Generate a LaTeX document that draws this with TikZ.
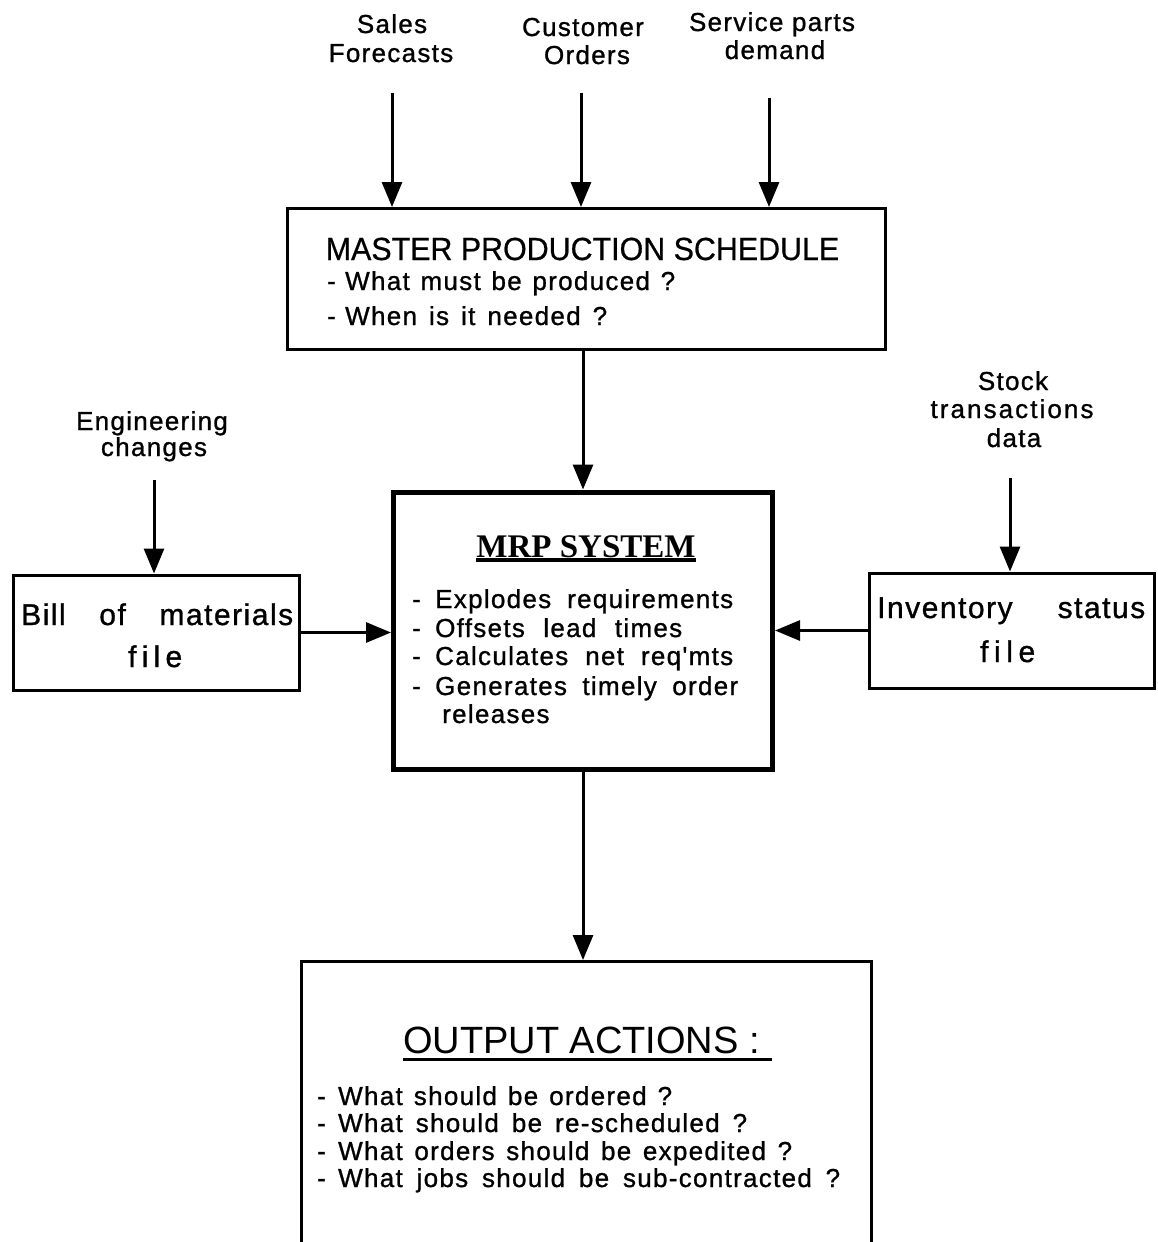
\documentclass[tikz,border=0pt]{standalone}
\usepackage{fontspec}
\setmainfont{Liberation Sans}
\newfontfamily\bodyfont{Liberation Sans}[LetterSpace=5,FakeBold=1]
\newfontfamily\headfont{Liberation Sans}[FakeStretch=0.95,FakeBold=0.6]
\newfontfamily\serifhead{Liberation Serif}
\usetikzlibrary{arrows.meta}

% a line of text stretched to a given width
\newcommand{\spreadto}[2]{\makebox[#1][s]{#2}}
% a leading dash in a column of fixed width
\newcommand{\dashcol}[1]{\makebox[#1][l]{-}}

\tikzset{
  box/.style={draw, rectangle, line width=3pt, inner sep=0pt, anchor=north west},
  arr/.style={line width=3pt, -{Triangle[length=25pt,width=20pt]}},
  lbl/.style={inner sep=0pt, anchor=base, font=\bodyfont\fontsize{26}{28}\selectfont},
  txt/.style={inner sep=0pt, anchor=base west, font=\bodyfont\fontsize{26}{28}\selectfont},
  bigtxt/.style={inner sep=0pt, anchor=base west, font=\bodyfont\fontsize{30}{34}\selectfont},
}

\begin{document}
\begin{tikzpicture}[x=1pt,y=-1pt]
  \clip (0,0) rectangle (1157,1242);
  \fill[white] (0,0) rectangle (1157,1242);

  % inputs to the master production schedule
  \node[lbl] (sales1) at (392,33) {Sales};
  \node[lbl] (sales2) at (391,62) {Forecasts};
  \node[lbl] (cust1) at (583,36) {Customer};
  \node[lbl] (cust2) at (587,64) {Orders};
  \node[lbl] (serv1) at (772,31) {Service parts};
  \node[lbl] (serv2) at (775,59) {demand};

  % master production schedule
  \node[box, minimum width=598pt, minimum height=141pt] (mps) at (286,207) {};
  \node[inner sep=0pt, anchor=base, font=\headfont\fontsize{32}{36}\selectfont] (mpst) at (582.5,260) {MASTER PRODUCTION SCHEDULE};
  \node[txt] (mps1) at (327,290) {\dashcol{18pt}\spreadto{330pt}{What must be produced ?}};
  \node[txt] (mps2) at (327,325) {\dashcol{18pt}\spreadto{262pt}{When is it needed ?}};

  % MRP system
  \node[box, line width=5pt, minimum width=379pt, minimum height=277pt] (mrp) at (391,489.5) {};
  \node[inner sep=0pt, anchor=base, font=\serifhead\bfseries\fontsize{33}{36}\selectfont] (mrpt) at (586,557) {MRP SYSTEM};
  \draw[line width=4pt] ([yshift=-3pt]mrpt.base west) -- ([yshift=-3pt]mrpt.base east);
  \node[txt] (mrp1) at (412,608) {\dashcol{23pt}\spreadto{298pt}{Explodes requirements}};
  \node[txt] (mrp2) at (412,637) {\dashcol{23pt}\spreadto{247pt}{Offsets lead times}};
  \node[txt] (mrp3) at (412,665) {\dashcol{23pt}\spreadto{298pt}{Calculates net req'mts}};
  \node[txt] (mrp4) at (412,695) {\dashcol{23pt}\spreadto{303pt}{Generates timely order}};
  \node[txt] (mrp5) at (442,723) {releases};

  % bill of materials
  \node[lbl] (eng1) at (152,430) {Engineering};
  \node[lbl] (eng2) at (154,456) {changes};
  \node[box, minimum width=286pt, minimum height=115pt] (bom) at (11.5,573.5) {};
  \node[bigtxt] (bom1) at (21,625) {\spreadto{272pt}{Bill of materials}};
  \node[bigtxt] (bom2) at (128,667) {\spreadto{54pt}{f\hfill i\hfill l\hfill e}};

  % inventory status
  \node[lbl] (stk1) at (1013,390) {Stock};
  \node[lbl] (stk2) at (1012,418) {\spreadto{163pt}{t\hfill r\hfill a\hfill n\hfill s\hfill a\hfill c\hfill t\hfill i\hfill o\hfill n\hfill s}};
  \node[lbl] (stk3) at (1014,447) {data};
  \node[box, minimum width=285.5pt, minimum height=115pt] (inv) at (867.5,571.5) {};
  \node[bigtxt] (inv1) at (877,618) {\spreadto{268pt}{Inventory status}};
  \node[bigtxt] (inv2) at (980,662) {\spreadto{55pt}{f\hfill i\hfill l\hfill e}};

  % output actions (box runs off the bottom edge)
  \node[box, minimum width=570pt, minimum height=330pt] (out) at (300,960) {};
  \node[inner sep=0pt, anchor=base, font=\fontsize{38}{42}\selectfont] (outt) at (581.5,1053) {OUTPUT ACTIONS :};
  \draw[line width=3pt] ([yshift=-6pt]outt.base west) -- ([xshift=12pt,yshift=-6pt]outt.base east);
  \node[txt] (out1) at (317,1105) {\dashcol{21pt}\spreadto{334pt}{What should be ordered ?}};
  \node[txt] (out2) at (317,1132) {\dashcol{21pt}\spreadto{409pt}{What should be re-scheduled ?}};
  \node[txt] (out3) at (317,1160) {\dashcol{21pt}\spreadto{454pt}{What orders should be expedited ?}};
  \node[txt] (out4) at (317,1187) {\dashcol{21pt}\spreadto{502pt}{What jobs should be sub-contracted ?}};

  % arrow tails
  \coordinate (salesTail) at (392,93);
  \coordinate (custTail) at (581,93);
  \coordinate (servTail) at (769,98);
  \coordinate (engTail) at (154,480);
  \coordinate (stkTail) at (1010,478);

  % connectors
  \draw[arr] (salesTail) -- (salesTail |- mps.north);
  \draw[arr] (custTail) -- (custTail |- mps.north);
  \draw[arr] (servTail) -- (servTail |- mps.north);
  \draw[arr] (mps.south -| mrp.north) -- (mrp.north);
  \draw[arr] (engTail) -- (engTail |- bom.north);
  \draw[arr] (stkTail) -- (stkTail |- inv.north);
  \draw[arr] (bom.east) -- (bom.east -| mrp.west);
  \draw[arr] (inv.west) -- (inv.west -| mrp.east);
  \draw[arr] (mrp.south) -- (mrp.south |- out.north);
\end{tikzpicture}
\end{document}
